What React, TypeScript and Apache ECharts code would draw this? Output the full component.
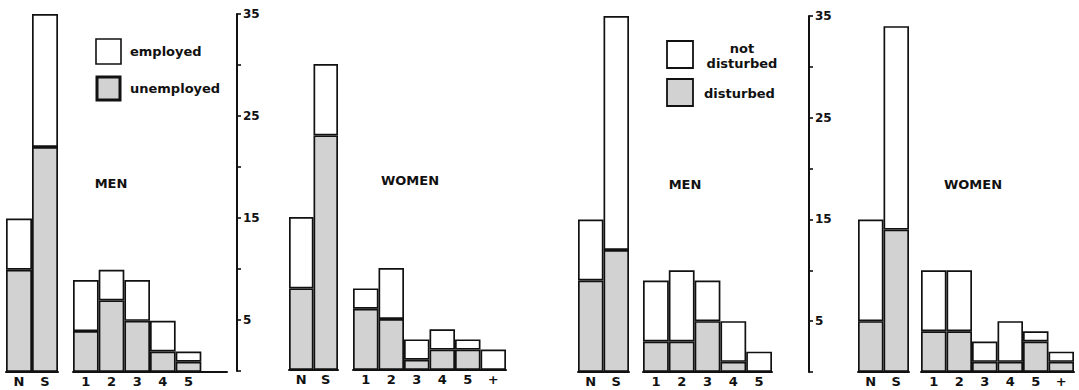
import React, { useEffect, useRef } from "react";
import * as echarts from "echarts";

// ---- categories ----
const nsCats = ["N", "S"];
const menCats = ["1", "2", "3", "4", "5", ""];
const menCats2 = ["1", "2", "3", "4", "5"];
const womenCats = ["1", "2", "3", "4", "5", "+"];
const yTickLabels = ["5", "15", "25", "35"];

// ---- panel 1: men, employment ----
const menNSUnemployed = [10, 22];
const menNSEmployed = [5, 13];
const menUnemployed = [4, 7, 5, 2, 1];
const menEmployed = [5, 3, 4, 3, 1];

// ---- panel 2: women, employment ----
const womenNSUnemployed = [8, 23];
const womenNSEmployed = [7, 7];
const womenUnemployed = [6, 5, 1, 2, 2, 0];
const womenEmployed = [2, 5, 2, 2, 1, 2];

// ---- panel 3: men, disturbance ----
const menNSDisturbed = [9, 12];
const menNSNotDisturbed = [6, 23];
const menDisturbed = [3, 3, 5, 1, 0];
const menNotDisturbed = [6, 7, 4, 4, 2];

// ---- panel 4: women, disturbance ----
const womenNSDisturbed = [5, 14];
const womenNSNotDisturbed = [10, 20];
const womenDisturbed = [4, 4, 1, 1, 3, 1];
const womenNotDisturbed = [6, 6, 2, 4, 1, 1];

const FONT = "DejaVu Sans, Liberation Sans, sans-serif";
const GRAY = "#d2d2d2";
const INK = "#111111";

export default function App() {
  const ref = useRef<HTMLDivElement>(null);

  useEffect(() => {
    if (!ref.current) return;
    const chart = echarts.init(ref.current, undefined, { renderer: "svg" });

    const groups = [
      { cats: nsCats, low: menNSUnemployed, high: menNSEmployed, lowName: "unemployed", highName: "employed", grid: { left: 6, width: 52, top: 14, height: 358 } },
      { cats: menCats, low: menUnemployed, high: menEmployed, lowName: "unemployed", highName: "employed", grid: { left: 73, width: 154, top: 14, height: 358 } },
      { cats: nsCats, low: womenNSUnemployed, high: womenNSEmployed, lowName: "unemployed", highName: "employed", grid: { left: 289, width: 49, top: 13, height: 357 } },
      { cats: womenCats, low: womenUnemployed, high: womenEmployed, lowName: "unemployed", highName: "employed", grid: { left: 353, width: 153, top: 13, height: 357 } },
      { cats: nsCats, low: menNSDisturbed, high: menNSNotDisturbed, lowName: "disturbed", highName: "not disturbed", grid: { left: 578, width: 51, top: 16, height: 356 } },
      { cats: menCats2, low: menDisturbed, high: menNotDisturbed, lowName: "disturbed", highName: "not disturbed", grid: { left: 643, width: 129, top: 16, height: 356 } },
      { cats: nsCats, low: womenNSDisturbed, high: womenNSNotDisturbed, lowName: "disturbed", highName: "not disturbed", grid: { left: 858, width: 51, top: 16, height: 356 } },
      { cats: womenCats, low: womenDisturbed, high: womenNotDisturbed, lowName: "disturbed", highName: "not disturbed", grid: { left: 921, width: 153, top: 16, height: 356 } },
    ];
    const axisGrids = [
      { left: 237, width: 30, top: 14, height: 357 },
      { left: 809, width: 30, top: 16, height: 356 },
    ];

    const grids: any[] = [];
    const xAxes: any[] = [];
    const yAxes: any[] = [];
    const series: any[] = [];

    groups.forEach((g, i) => {
      grids.push({ ...g.grid, outerBoundsMode: "none", containLabel: false });
      xAxes.push({
        type: "category",
        gridIndex: i,
        data: g.cats,
        boundaryGap: true,
        axisLine: { show: true, lineStyle: { color: INK, width: 2 } },
        axisTick: { show: false },
        splitLine: { show: false },
        axisLabel: { color: INK, fontFamily: FONT, fontWeight: "bold", fontSize: 13, margin: 3, interval: 0 },
      });
      yAxes.push({
        type: "value",
        gridIndex: i,
        min: 0,
        max: 35,
        show: false,
        splitLine: { show: false },
      });
      const base = {
        type: "bar",
        xAxisIndex: i,
        yAxisIndex: i,
        stack: "s" + i,
        barCategoryGap: "0%",
        barGap: "0%",
        silent: true,
      };
      series.push({
        ...base,
        name: g.lowName,
        data: g.low,
        itemStyle: { color: GRAY, borderColor: INK, borderWidth: 1.7 },
      });
      series.push({
        ...base,
        name: g.highName,
        data: g.high,
        itemStyle: { color: "#ffffff", borderColor: INK, borderWidth: 1.7 },
      });
    });

    axisGrids.forEach((ag, k) => {
      const idx = groups.length + k;
      grids.push({ ...ag, outerBoundsMode: "none", containLabel: false });
      xAxes.push({ type: "category", gridIndex: idx, data: [""], show: false });
      yAxes.push({
        type: "value",
        gridIndex: idx,
        position: "left",
        min: 0,
        max: 35,
        interval: 5,
        axisLine: { show: true, lineStyle: { color: INK, width: 2 } },
        axisTick: { show: true, inside: true, length: 4, lineStyle: { color: INK, width: 1.6 } },
        splitLine: { show: false },
        axisLabel: {
          show: true,
          inside: true,
          margin: 6,
          color: INK,
          fontFamily: FONT,
          fontWeight: "bold",
          fontSize: 12,
          formatter: (v: number) => (yTickLabels.includes(String(v)) ? String(v) : ""),
        },
      });
    });

    const textStyle = (text: string, x: number, y: number, align = "left") => ({
      type: "text",
      x,
      y,
      silent: true,
      style: {
        text,
        fill: INK,
        font: `bold 13px ${FONT}`,
        textAlign: align,
        textVerticalAlign: "middle",
      },
    });

    const graphic: any[] = [
      // legend 1
      { type: "rect", silent: true, shape: { x: 96, y: 39, width: 25, height: 25 }, style: { fill: "#fff", stroke: INK, lineWidth: 1.6 } },
      { type: "rect", silent: true, shape: { x: 97, y: 77, width: 23, height: 23 }, style: { fill: GRAY, stroke: INK, lineWidth: 3 } },
      textStyle("employed", 130, 51),
      textStyle("unemployed", 130, 88),
      // legend 2
      { type: "rect", silent: true, shape: { x: 667, y: 41, width: 26, height: 27 }, style: { fill: "#fff", stroke: INK, lineWidth: 1.8 } },
      { type: "rect", silent: true, shape: { x: 667, y: 79, width: 26, height: 27 }, style: { fill: GRAY, stroke: INK, lineWidth: 1.8 } },
      textStyle("not", 742, 48, "center"),
      textStyle("disturbed", 742, 63, "center"),
      textStyle("disturbed", 704, 93),
      // panel titles
      textStyle("MEN", 111, 183, "center"),
      textStyle("WOMEN", 410, 180, "center"),
      textStyle("MEN", 685, 184, "center"),
      textStyle("WOMEN", 973, 184, "center"),
    ];

    chart.setOption({
      animation: false,
      backgroundColor: "#ffffff",
      grid: grids,
      xAxis: xAxes,
      yAxis: yAxes,
      series,
      graphic,
    });

    return () => chart.dispose();
  }, []);

  return (
    <div
      ref={ref}
      style={{ position: "fixed", left: 0, top: 0, width: 1079, height: 390 }}
    />
  );
}
